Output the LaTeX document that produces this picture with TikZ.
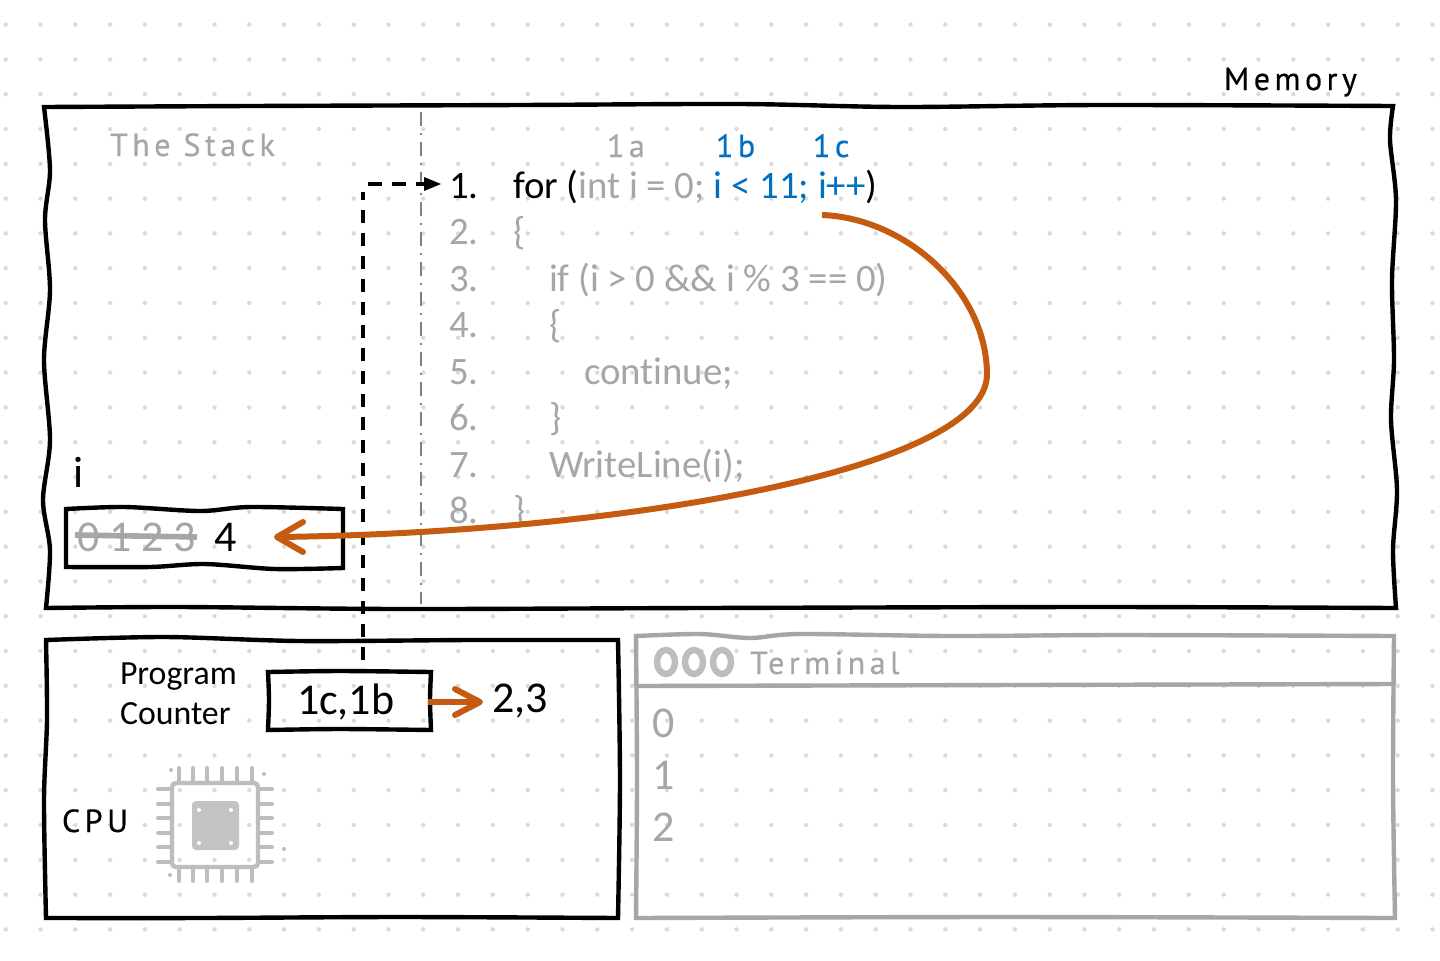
\documentclass[tikz,border=0pt]{standalone}
\usepackage{fontspec}
\setmainfont{Carlito}[Ligatures=NoCommon]
\newfontfamily\handf[LetterSpace=14,FakeBold=0.4]{PT Sans}
\usetikzlibrary{arrows.meta}
\definecolor{gtext}{HTML}{A6A6A6}
\definecolor{gbox}{HTML}{A6A6A6}
\definecolor{bluet}{HTML}{0070C0}
\definecolor{orng}{HTML}{C55A11}
\definecolor{griddot}{HTML}{DADADA}
\definecolor{chipg}{HTML}{BDBDBD}
\tikzset{
  wob/.style={draw=black,line width=2.2pt,line join=miter},
  wobg/.style={draw=gbox,line width=2.2pt,line join=miter},
  txt/.style={anchor=base west,inner sep=0pt,outer sep=0pt},
  code/.style={txt,font=\fontsize{19.4}{22}\selectfont,text=gtext},
  big/.style={txt,font=\fontsize{22}{24}\selectfont},
  mid/.style={txt,font=\fontsize{16.9}{18}\selectfont},
  hand/.style={txt,font=\handf\fontsize{16}{18}\selectfont},
  orangeline/.style={draw=orng,line width=3pt},
  orangetip/.style={draw=orng,line width=3pt,line cap=round,line join=round},
  pin/.style={draw=chipg,line width=2pt,line cap=round},
}
\begin{document}
\begin{tikzpicture}[x=0.5pt,y=-0.5pt]
\useasboundingbox (0,0) rectangle (1440,960);
\fill[white] (0,0) rectangle (1440,960);
% dot grid
\foreach \i in {0,...,41}{\foreach \j in {0,...,26}{
  \fill[griddot] ({5.7+34.8*\i},{24.6+34.8*\j}) circle (2.2);
}}
% dash-dot separator
\coordinate (septop) at (421,112);
\coordinate (sepbot) at (421,604);
\draw[gray,line width=1.1pt,dash pattern=on 7pt off 3.5pt on 1pt off 3.5pt] (septop) -- (sepbot);
% memory box
\draw[wob] plot[smooth] coordinates {(44,107) (250,106) (520,105) (740,104) (900,107) (1100,105) (1393,106)}
  -- plot[smooth] coordinates {(1393,106) (1390,140) (1396,200) (1392,280) (1394,360) (1391,420) (1397,490) (1393,550) (1396,608)}
  -- plot[smooth] coordinates {(1396,608) (1100,607) (700,608) (400,609) (180,607) (46,608)}
  -- plot[smooth] coordinates {(46,608) (50,550) (43,500) (50,440) (44,360) (50,290) (45,220) (50,170) (44,107)} -- cycle;
% cpu box
\draw[wob] plot[smooth] coordinates {(46,640) (165,637) (300,641) (470,640) (618,640)}
  -- plot[smooth] coordinates {(618,640) (620,780) (618,918)}
  -- plot[smooth] coordinates {(618,918) (400,917) (200,918) (46,918)}
  -- plot[smooth] coordinates {(46,918) (44,800) (47,720) (46,640)} -- cycle;
% terminal box
\draw[wobg] plot[smooth] coordinates {(636,636) (700,634) (750,638) (800,634) (950,636) (1120,635) (1394,636)}
  -- plot[smooth] coordinates {(1394,636) (1393,780) (1395,918)}
  -- plot[smooth] coordinates {(1395,918) (1000,917) (636,918)}
  -- plot[smooth] coordinates {(636,918) (637,780) (636,636)} -- cycle;
\coordinate (tdl) at (636,686);
\coordinate (tdr) at (1394,684);
\draw[gbox,line width=2.2pt] (tdl) -- (tdr);
\foreach \cx in {666,694,722}{\draw[chipg,line width=3.2pt] (\cx,662) ellipse [x radius=4.5pt,y radius=6pt];}
% i box
\draw[wob] plot[smooth] coordinates {(66,509) (125,507) (200,511) (250,507) (343,509)}
  -- (343,568)
  -- plot[smooth] coordinates {(343,568) (275,569) (205,564) (150,567) (66,567)} -- cycle;
% PC box
\draw[wob] plot[smooth] coordinates {(268,672) (340,671) (431,672)}
  -- plot[smooth] coordinates {(431,672) (430,700) (431,730)}
  -- plot[smooth] coordinates {(431,730) (340,729) (268,730)}
  -- plot[smooth] coordinates {(268,730) (269,700) (268,672)} -- cycle;
% texts
\node[hand] (mem) at (1224,90) {Memory};
\node[hand,text=gtext] (stack) at (110,156) {The Stack};
\node[hand,text=gtext] (la) at (607,157) {1a};
\node[hand,text=bluet] (lb) at (716,157) {1b};
\node[hand,text=bluet] (lc) at (813,157) {1c};
\node[code,text=black] (n1) at (449,198) {1.};
\node[code] (n2) at (449,244.5) {2.};
\node[code] (n3) at (449,291) {3.};
\node[code] (n4) at (449,337.5) {4.};
\node[code] (n5) at (449,384) {5.};
\node[code] (n6) at (449,430.5) {6.};
\node[code] (n7) at (449,477) {7.};
\node[code] (n8) at (449,523.5) {8.};
\node[code,text=black] (c1) at (513,198) {for (\textcolor{gtext}{int i = 0;} \textcolor{bluet}{i < 11; i++})};
\node[code] (c2) at (513,244.5) {\{};
\node[code] (c3) at (549,291) {if (i > 0 \&\& i \% 3 == 0)};
\node[code] (c4) at (549,337.5) {\{};
\node[code] (c5) at (584,384) {continue;};
\node[code] (c6) at (549,430.5) {\}};
\node[code] (c7) at (549,477) {WriteLine(i);};
\node[code] (c8) at (513,523.5) {\}};
\node[big] (ivar) at (73,487) {i};
\node[big,text=gtext] (old) at (77,551) {0 1 2 3};
\coordinate (sl) at (75,535);
\coordinate (sr) at (197,537);
\draw[gbox,line width=2.8pt] (sl) -- (sr);
\node[big] (new) at (214,551) {4};
\node[mid] (pg) at (120,684) {Program};
\node[mid] (ct) at (120,724) {Counter};
\node[big] (pcv) at (297,714) {1c,1b};
\node[big] (nextv) at (492,712) {2,3};
\node[hand] (cpu) at (62,832) {CPU};
\node[hand,text=gbox] (term) at (750,674) {Terminal};
\node[big,text=gtext] (t0) at (652,737) {0};
\node[big,text=gtext] (t1) at (652,789) {1};
\node[big,text=gtext] (t2) at (652,841) {2};
% dashed jump arrow
\coordinate (jstart) at (363,660);
\coordinate (jcorner) at (363,184);
\coordinate (jend) at (441,184);
\draw[black,line width=1.8pt,dash pattern=on 6.5pt off 5pt] (jstart) -- (363,192);
\draw[black,line width=1.8pt,dash pattern=on 7pt off 5pt] (368,184) -- (426,184);
\fill[black] (jend) -- (424,177) -- (424,191) -- cycle;
% orange curve
\coordinate (os) at (822,215);
\coordinate (om) at (987,375);
\coordinate (oe) at (277,537);
\draw[orangeline] (os) .. controls (905,218) and (987,290) .. (om) .. controls (985,470) and (620,533) .. (oe);
\draw[orangetip] (303,522) -- (oe) -- (303,552);
% next arrow
\coordinate (ns) at (428,702);
\coordinate (ne) at (480,702);
\draw[orangeline] (ns) -- (ne);
\draw[orangetip] (455,689) -- (ne) -- (455,715);
% chip
\begin{scope}
\draw[chipg,line width=2.2pt,rounded corners=2pt] (172,783) rectangle (258,867);
\fill[chipg,opacity=.9,rounded corners=2pt] (192,801) rectangle (239,850);
\foreach \hx/\hy in {199/810,231/810,199/843,231/843}{\fill[white] (\hx,\hy) circle (2);}
\foreach \px in {179,193,207,222,237,252}{
  \draw[pin] (\px,768) -- (\px,781);
  \draw[pin] (\px,869) -- (\px,881);
}
\foreach \py in {789,804,818,833,847,862}{
  \draw[pin] (158,\py) -- (171,\py);
  \draw[pin] (260,\py) -- (272,\py);
}
\foreach \dx/\dy in {171/770,264/774,284/849,170/875}{\fill[chipg] (\dx,\dy) circle (2);}
\end{scope}
\end{tikzpicture}
\end{document}
